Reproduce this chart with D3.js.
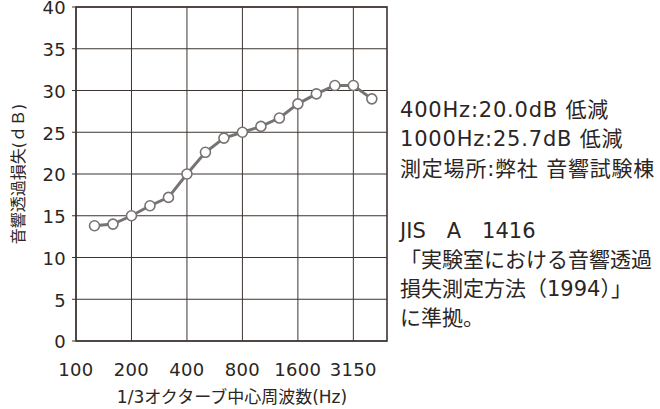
<!DOCTYPE html>
<html><head><meta charset="utf-8">
<script src="https://cdn.jsdelivr.net/npm/d3@7"></script>
<style>
body{margin:0;background:#fff;}
svg{display:block;}
text{font-family:"DejaVu Sans","Noto Sans CJK JP",sans-serif;fill:#2b2523;}
</style></head><body>
<svg id="c" width="660" height="409"></svg>
<script>
const bands = ["125","160","200","250","315","400","500","630","800","1000","1250","1600","2000","2500","3150","4000"];
const values = [13.8,14.0,15.0,16.2,17.2,20.0,22.6,24.3,25.0,25.7,26.7,28.4,29.6,30.6,30.6,29.0];
const xTickLabels = ["100","200","400","800","1600","3150"];
const yTicks = [0,5,10,15,20,25,30,35,40];
const noteLines1 = ["400Hz:20.0dB 低減","1000Hz:25.7dB 低減","測定場所:弊社 音響試験棟"];
const noteLines2 = ["JIS　A　1416","「実験室における音響透過","損失測定方法（1994）」","に準拠。"];

const svg = d3.select("#c");
const L=76, R=387, T=7, B=341;
// x position in 1/3-octave steps above 100 Hz
const x = d3.scaleLinear().domain([0,16.82]).range([L,R]);
const y = d3.scaleLinear().domain([0,40]).range([B,T]);
const gridCol="#3d3431";

// horizontal grid
svg.append("g").selectAll("line").data(yTicks).join("line")
  .attr("x1",L-4).attr("x2",R).attr("y1",d=>y(d)).attr("y2",d=>y(d))
  .attr("stroke",gridCol).attr("stroke-width",1);
// vertical grid (octave lines)
svg.append("g").selectAll("line").data(xTickLabels).join("line")
  .attr("x1",(d,i)=>x(i*3)).attr("x2",(d,i)=>x(i*3)).attr("y1",T).attr("y2",B)
  .attr("stroke",gridCol).attr("stroke-width",1);
// frame
svg.append("rect").attr("x",L).attr("y",T).attr("width",R-L).attr("height",B-T)
  .attr("fill","none").attr("stroke",gridCol).attr("stroke-width",1.6);

// y tick labels
svg.append("g").selectAll("text").data(yTicks).join("text")
  .attr("x",66).attr("y",d=>y(d)+1).attr("dy","0.36em").attr("text-anchor","end")
  .attr("font-size",18).attr("letter-spacing",0.3).text(d=>d);
// x tick labels
svg.append("g").selectAll("text").data(xTickLabels).join("text")
  .attr("x",(d,i)=>x(i*3)).attr("y",370).attr("dy","0.36em").attr("text-anchor","middle")
  .attr("font-size",18).attr("letter-spacing",0.3).text(d=>d);
// axis titles
svg.append("text").attr("x",232).attr("y",397).attr("dy","0.36em").attr("text-anchor","middle")
  .attr("font-size",17).text("1/3オクターブ中心周波数(Hz)");
svg.append("text").attr("transform",`translate(18,${(T+B)/2}) rotate(-90)`)
  .attr("dy","0.36em").attr("text-anchor","middle").attr("font-size",16).text("音響透過損失(ｄＢ)");

// data
const pts = values.map((v,i)=>({i:i+1,v}));
svg.append("path").datum(pts)
  .attr("d",d3.line().x(d=>x(d.i)).y(d=>y(d.v)))
  .attr("fill","none").attr("stroke","#777372").attr("stroke-width",3);
svg.append("g").selectAll("circle").data(pts).join("circle")
  .attr("cx",d=>x(d.i)).attr("cy",d=>y(d.v)).attr("r",5)
  .attr("fill","#fff").attr("stroke","#777372").attr("stroke-width",1.6);

// notes
svg.append("g").selectAll("text").data(noteLines1).join("text")
  .attr("x",400).attr("y",(d,i)=>109+i*29.5).attr("dy","0.36em").attr("font-size",21)
  .attr("letter-spacing",0.8).text(d=>d);
svg.append("g").selectAll("text").data(noteLines2).join("text")
  .attr("x",400).attr("y",(d,i)=>230+i*29).attr("dy","0.36em").attr("font-size",21)
  .attr("letter-spacing",0).text(d=>d);
</script></body></html>
